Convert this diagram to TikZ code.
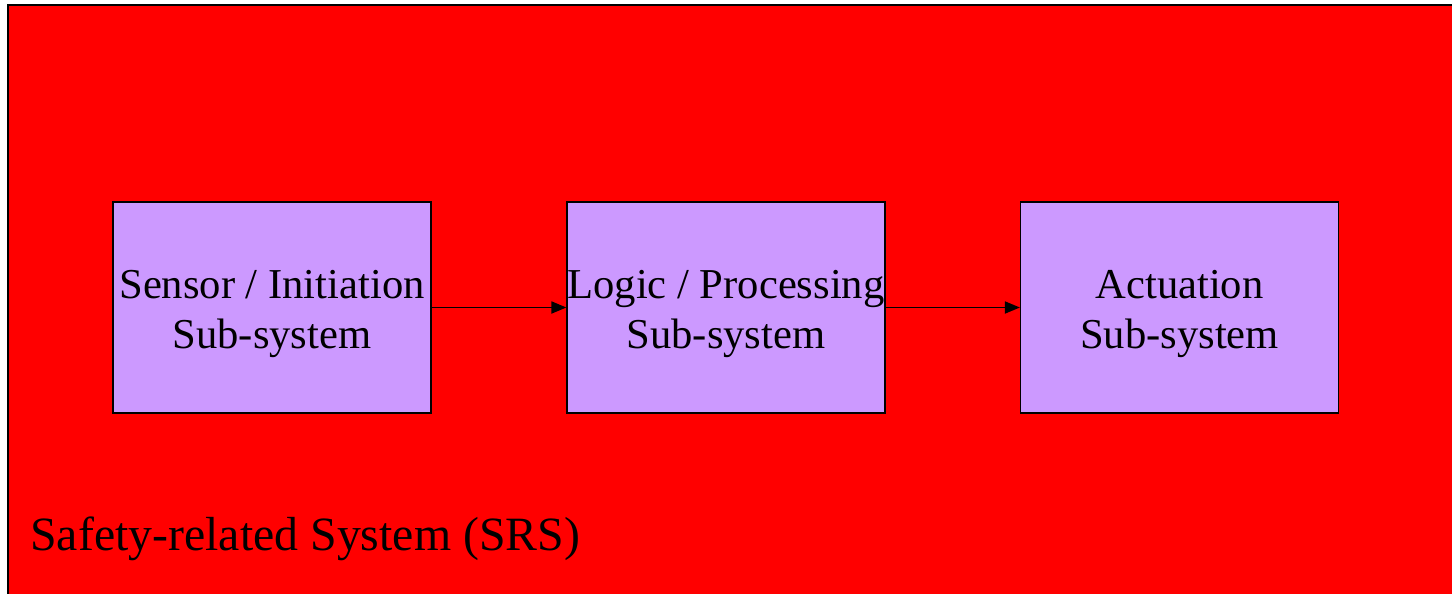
\documentclass[tikz,border=0pt]{standalone}
\usepackage{fontspec}
\setmainfont{Liberation Serif}
\usetikzlibrary{arrows.meta}
\definecolor{srsred}{HTML}{FF0000}
\definecolor{subviolet}{HTML}{CC99FF}
\begin{document}
\begin{tikzpicture}[x=0.5pt,y=-0.5pt,
  subbox/.style={draw=black,line width=0.6pt,fill=subviolet,minimum width=159pt,minimum height=105.5pt,inner sep=0pt},
  boxtext/.style={inner sep=0pt,align=center,font=\fontsize{21.3pt}{25pt}\selectfont},
  flow/.style={-{Triangle[length=7.5pt,width=6pt]},line width=0.9pt}]
\useasboundingbox (0,0) rectangle (1452,594);
\clip (0,0) rectangle (1452,594);
\draw[fill=srsred,line width=1.2pt] (8,5) rectangle (1470,610);
\node[subbox] (s) at (272,307.5) {};
\node[subbox] (l) at (726,307.5) {};
\node[subbox] (a) at (1179.5,307.5) {};
\node[boxtext] (st) at ([yshift=-3pt]s.center) {Sensor / Initiation\\Sub-system};
\node[boxtext] (lt) at ([yshift=-3pt]l.center) {Logic / Processing\\Sub-system};
\node[boxtext] (at) at ([yshift=-3pt]a.center) {Actuation\\Sub-system};
\draw[flow] (s) -- (l);
\draw[flow] (l) -- (a);
\node[anchor=base west,inner sep=0pt,font=\fontsize{23.9pt}{28pt}\selectfont] (lbl) at (30,550) {Safety-related System (SRS)};
\end{tikzpicture}
\end{document}
